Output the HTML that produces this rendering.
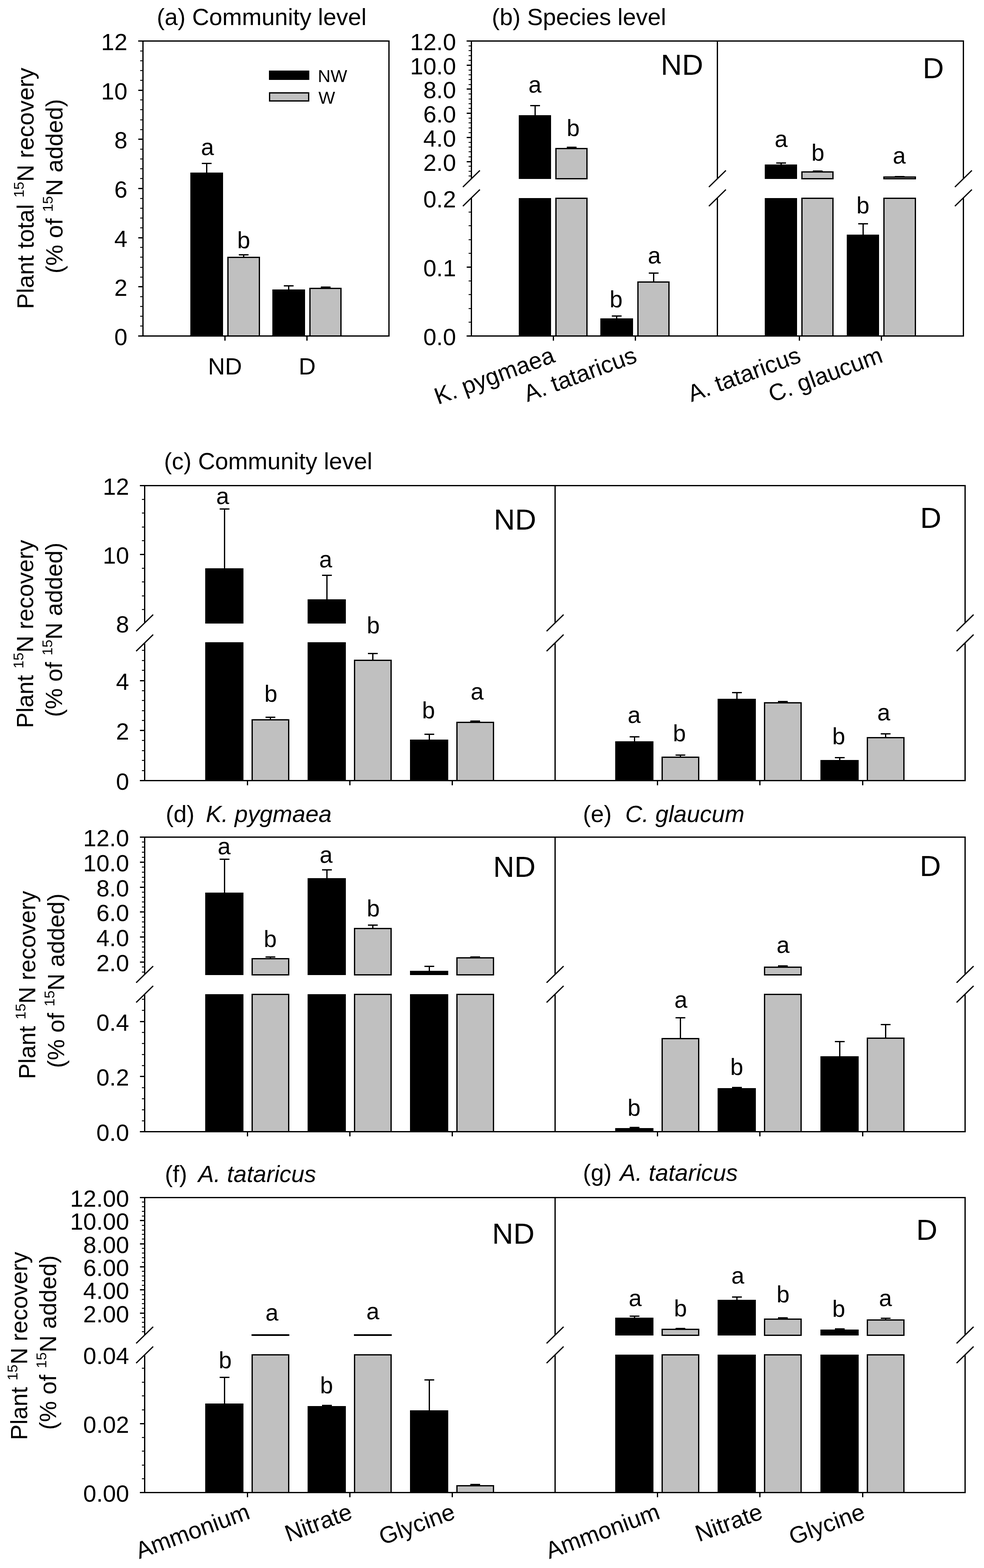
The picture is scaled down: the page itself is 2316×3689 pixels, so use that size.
<!DOCTYPE html>
<html><head><meta charset="utf-8"><title>Plant 15N recovery figure</title>
<style>
html,body{margin:0;padding:0;background:#fff;}
svg{display:block;}
text{font-family:"Liberation Sans",Arial,Helvetica,sans-serif;fill:#000;stroke:none;}
</style></head>
<body>
<svg width="2316" height="3689" viewBox="0 0 2316 3689">
<rect width="2316" height="3689" fill="#fff"/>
<g stroke="#000" stroke-linecap="butt">
<line x1="325.50" y1="96.50" x2="917.00" y2="96.50" stroke-width="3"/>
<line x1="325.50" y1="790.50" x2="917.00" y2="790.50" stroke-width="3"/>
<line x1="336.50" y1="95.00" x2="336.50" y2="792.00" stroke-width="3"/>
<line x1="915.50" y1="95.00" x2="915.50" y2="792.00" stroke-width="3"/>
<line x1="330.00" y1="767" x2="336.50" y2="767" stroke-width="2.2"/>
<line x1="330.00" y1="744" x2="336.50" y2="744" stroke-width="2.2"/>
<line x1="330.00" y1="721" x2="336.50" y2="721" stroke-width="2.2"/>
<line x1="330.00" y1="698" x2="336.50" y2="698" stroke-width="2.2"/>
<line x1="330.00" y1="652" x2="336.50" y2="652" stroke-width="2.2"/>
<line x1="330.00" y1="629" x2="336.50" y2="629" stroke-width="2.2"/>
<line x1="330.00" y1="605" x2="336.50" y2="605" stroke-width="2.2"/>
<line x1="330.00" y1="582" x2="336.50" y2="582" stroke-width="2.2"/>
<line x1="330.00" y1="536" x2="336.50" y2="536" stroke-width="2.2"/>
<line x1="330.00" y1="513" x2="336.50" y2="513" stroke-width="2.2"/>
<line x1="330.00" y1="490" x2="336.50" y2="490" stroke-width="2.2"/>
<line x1="330.00" y1="467" x2="336.50" y2="467" stroke-width="2.2"/>
<line x1="330.00" y1="420" x2="336.50" y2="420" stroke-width="2.2"/>
<line x1="330.00" y1="397" x2="336.50" y2="397" stroke-width="2.2"/>
<line x1="330.00" y1="374" x2="336.50" y2="374" stroke-width="2.2"/>
<line x1="330.00" y1="351" x2="336.50" y2="351" stroke-width="2.2"/>
<line x1="330.00" y1="305" x2="336.50" y2="305" stroke-width="2.2"/>
<line x1="330.00" y1="282" x2="336.50" y2="282" stroke-width="2.2"/>
<line x1="330.00" y1="258" x2="336.50" y2="258" stroke-width="2.2"/>
<line x1="330.00" y1="235" x2="336.50" y2="235" stroke-width="2.2"/>
<line x1="330.00" y1="189" x2="336.50" y2="189" stroke-width="2.2"/>
<line x1="330.00" y1="166" x2="336.50" y2="166" stroke-width="2.2"/>
<line x1="330.00" y1="143" x2="336.50" y2="143" stroke-width="2.2"/>
<line x1="330.00" y1="120" x2="336.50" y2="120" stroke-width="2.2"/>
<line x1="325.50" y1="790.50" x2="336.50" y2="790.50" stroke-width="3"/>
<text x="299.80" y="812.30" font-size="55.5" text-anchor="end">0</text>
<line x1="325.50" y1="674.50" x2="336.50" y2="674.50" stroke-width="3"/>
<text x="299.80" y="696.30" font-size="55.5" text-anchor="end">2</text>
<line x1="325.50" y1="559.50" x2="336.50" y2="559.50" stroke-width="3"/>
<text x="299.80" y="581.30" font-size="55.5" text-anchor="end">4</text>
<line x1="325.50" y1="443.50" x2="336.50" y2="443.50" stroke-width="3"/>
<text x="299.80" y="465.30" font-size="55.5" text-anchor="end">6</text>
<line x1="325.50" y1="327.50" x2="336.50" y2="327.50" stroke-width="3"/>
<text x="299.80" y="349.30" font-size="55.5" text-anchor="end">8</text>
<line x1="325.50" y1="212.50" x2="336.50" y2="212.50" stroke-width="3"/>
<text x="299.80" y="234.30" font-size="55.5" text-anchor="end">10</text>
<line x1="325.50" y1="96.50" x2="336.50" y2="96.50" stroke-width="3"/>
<text x="299.80" y="118.30" font-size="55.5" text-anchor="end">12</text>
<line x1="529.50" y1="790.50" x2="529.50" y2="801.50" stroke-width="3"/>
<line x1="722.50" y1="790.50" x2="722.50" y2="801.50" stroke-width="3"/>
<text x="529.50" y="881.00" font-size="55.5" text-anchor="middle">ND</text>
<text x="723.00" y="881.00" font-size="55.5" text-anchor="middle">D</text>
<rect x="448" y="406" width="77" height="384" fill="#000" stroke="none"/>
<rect x="536.5" y="605.5" width="74" height="185" fill="#c0c0c0" stroke="#000" stroke-width="3"/>
<rect x="641" y="681" width="77" height="109" fill="#000" stroke="none"/>
<rect x="729.5" y="678.5" width="73" height="112" fill="#c0c0c0" stroke="#000" stroke-width="3"/>
<line x1="486.50" y1="406.00" x2="486.50" y2="384.50" stroke-width="3"/>
<line x1="475.00" y1="384.50" x2="498.00" y2="384.50" stroke-width="3"/>
<line x1="573.50" y1="604.00" x2="573.50" y2="599.50" stroke-width="3"/>
<line x1="562.00" y1="599.50" x2="585.00" y2="599.50" stroke-width="3"/>
<line x1="679.50" y1="681.00" x2="679.50" y2="672.50" stroke-width="3"/>
<line x1="668.00" y1="672.50" x2="691.00" y2="672.50" stroke-width="3"/>
<line x1="766.50" y1="677.00" x2="766.50" y2="675.50" stroke-width="3"/>
<line x1="755.00" y1="675.50" x2="778.00" y2="675.50" stroke-width="3"/>
<text x="488.40" y="365.00" font-size="55" text-anchor="middle">a</text>
<text x="573.50" y="583.50" font-size="55" text-anchor="middle">b</text>
<rect x="633" y="166" width="95" height="22" fill="#000" stroke="none"/>
<rect x="634.5" y="218.5" width="92" height="19" fill="#c0c0c0" stroke="#000" stroke-width="3"/>
<text x="748.00" y="192.90" font-size="41.5" text-anchor="start">NW</text>
<text x="749.50" y="243.80" font-size="41.5" text-anchor="start">W</text>
<text x="369.00" y="59.00" font-size="55.5" text-anchor="start">(a) Community level</text>
<line x1="1098.50" y1="96.50" x2="2269.00" y2="96.50" stroke-width="3"/>
<line x1="1098.50" y1="790.50" x2="2269.00" y2="790.50" stroke-width="3"/>
<line x1="1109.50" y1="95.00" x2="1109.50" y2="420.50" stroke-width="3"/>
<line x1="1109.50" y1="465.50" x2="1109.50" y2="792.00" stroke-width="3"/>
<line x1="1688.50" y1="95.00" x2="1688.50" y2="420.50" stroke-width="3"/>
<line x1="1688.50" y1="465.50" x2="1688.50" y2="792.00" stroke-width="3"/>
<line x1="2267.50" y1="95.00" x2="2267.50" y2="420.50" stroke-width="3"/>
<line x1="2267.50" y1="465.50" x2="2267.50" y2="792.00" stroke-width="3"/>
<line x1="1089.50" y1="440.00" x2="1129.50" y2="401.00" stroke-width="3"/>
<line x1="1089.50" y1="485.00" x2="1129.50" y2="446.00" stroke-width="3"/>
<line x1="1668.50" y1="440.00" x2="1708.50" y2="401.00" stroke-width="3"/>
<line x1="1668.50" y1="485.00" x2="1708.50" y2="446.00" stroke-width="3"/>
<line x1="2247.50" y1="440.00" x2="2287.50" y2="401.00" stroke-width="3"/>
<line x1="2247.50" y1="485.00" x2="2287.50" y2="446.00" stroke-width="3"/>
<line x1="1103.00" y1="414" x2="1109.50" y2="414" stroke-width="2.2"/>
<line x1="1103.00" y1="403" x2="1109.50" y2="403" stroke-width="2.2"/>
<line x1="1103.00" y1="391" x2="1109.50" y2="391" stroke-width="2.2"/>
<line x1="1103.00" y1="369" x2="1109.50" y2="369" stroke-width="2.2"/>
<line x1="1103.00" y1="357" x2="1109.50" y2="357" stroke-width="2.2"/>
<line x1="1103.00" y1="346" x2="1109.50" y2="346" stroke-width="2.2"/>
<line x1="1103.00" y1="335" x2="1109.50" y2="335" stroke-width="2.2"/>
<line x1="1103.00" y1="312" x2="1109.50" y2="312" stroke-width="2.2"/>
<line x1="1103.00" y1="301" x2="1109.50" y2="301" stroke-width="2.2"/>
<line x1="1103.00" y1="289" x2="1109.50" y2="289" stroke-width="2.2"/>
<line x1="1103.00" y1="278" x2="1109.50" y2="278" stroke-width="2.2"/>
<line x1="1103.00" y1="255" x2="1109.50" y2="255" stroke-width="2.2"/>
<line x1="1103.00" y1="244" x2="1109.50" y2="244" stroke-width="2.2"/>
<line x1="1103.00" y1="233" x2="1109.50" y2="233" stroke-width="2.2"/>
<line x1="1103.00" y1="221" x2="1109.50" y2="221" stroke-width="2.2"/>
<line x1="1103.00" y1="199" x2="1109.50" y2="199" stroke-width="2.2"/>
<line x1="1103.00" y1="187" x2="1109.50" y2="187" stroke-width="2.2"/>
<line x1="1103.00" y1="176" x2="1109.50" y2="176" stroke-width="2.2"/>
<line x1="1103.00" y1="165" x2="1109.50" y2="165" stroke-width="2.2"/>
<line x1="1103.00" y1="142" x2="1109.50" y2="142" stroke-width="2.2"/>
<line x1="1103.00" y1="131" x2="1109.50" y2="131" stroke-width="2.2"/>
<line x1="1103.00" y1="119" x2="1109.50" y2="119" stroke-width="2.2"/>
<line x1="1103.00" y1="108" x2="1109.50" y2="108" stroke-width="2.2"/>
<line x1="1098.50" y1="380.50" x2="1109.50" y2="380.50" stroke-width="3"/>
<text x="1073.30" y="402.30" font-size="55.5" text-anchor="end">2.0</text>
<line x1="1098.50" y1="323.50" x2="1109.50" y2="323.50" stroke-width="3"/>
<text x="1073.30" y="345.30" font-size="55.5" text-anchor="end">4.0</text>
<line x1="1098.50" y1="266.50" x2="1109.50" y2="266.50" stroke-width="3"/>
<text x="1073.30" y="288.30" font-size="55.5" text-anchor="end">6.0</text>
<line x1="1098.50" y1="209.50" x2="1109.50" y2="209.50" stroke-width="3"/>
<text x="1073.30" y="231.30" font-size="55.5" text-anchor="end">8.0</text>
<line x1="1098.50" y1="153.50" x2="1109.50" y2="153.50" stroke-width="3"/>
<text x="1073.30" y="175.30" font-size="55.5" text-anchor="end">10.0</text>
<line x1="1098.50" y1="96.50" x2="1109.50" y2="96.50" stroke-width="3"/>
<text x="1073.30" y="118.30" font-size="55.5" text-anchor="end">12.0</text>
<line x1="1103.00" y1="758" x2="1109.50" y2="758" stroke-width="2.2"/>
<line x1="1103.00" y1="726" x2="1109.50" y2="726" stroke-width="2.2"/>
<line x1="1103.00" y1="693" x2="1109.50" y2="693" stroke-width="2.2"/>
<line x1="1103.00" y1="661" x2="1109.50" y2="661" stroke-width="2.2"/>
<line x1="1103.00" y1="596" x2="1109.50" y2="596" stroke-width="2.2"/>
<line x1="1103.00" y1="564" x2="1109.50" y2="564" stroke-width="2.2"/>
<line x1="1103.00" y1="531" x2="1109.50" y2="531" stroke-width="2.2"/>
<line x1="1103.00" y1="499" x2="1109.50" y2="499" stroke-width="2.2"/>
<line x1="1098.50" y1="790.50" x2="1109.50" y2="790.50" stroke-width="3"/>
<text x="1073.30" y="812.30" font-size="55.5" text-anchor="end">0.0</text>
<line x1="1098.50" y1="628.50" x2="1109.50" y2="628.50" stroke-width="3"/>
<text x="1073.30" y="650.30" font-size="55.5" text-anchor="end">0.1</text>
<text x="1073.30" y="488.30" font-size="55.5" text-anchor="end">0.2</text>
<line x1="1302.50" y1="790.50" x2="1302.50" y2="801.50" stroke-width="3"/>
<line x1="1495.50" y1="790.50" x2="1495.50" y2="801.50" stroke-width="3"/>
<line x1="1881.50" y1="790.50" x2="1881.50" y2="801.50" stroke-width="3"/>
<line x1="2074.50" y1="790.50" x2="2074.50" y2="801.50" stroke-width="3"/>
<rect x="1221" y="271" width="76" height="150" fill="#000" stroke="none"/>
<rect x="1221" y="466" width="76" height="324" fill="#000" stroke="none"/>
<line x1="1259.50" y1="271.00" x2="1259.50" y2="248.50" stroke-width="3"/>
<line x1="1248.00" y1="248.50" x2="1271.00" y2="248.50" stroke-width="3"/>
<rect x="1308.5" y="349.5" width="73" height="71" fill="#c0c0c0" stroke="#000" stroke-width="3"/>
<rect x="1308.5" y="466.5" width="73" height="324" fill="#c0c0c0" stroke="#000" stroke-width="3"/>
<line x1="1345.50" y1="348.00" x2="1345.50" y2="346.50" stroke-width="3"/>
<line x1="1334.00" y1="346.50" x2="1357.00" y2="346.50" stroke-width="3"/>
<rect x="1413" y="749" width="77" height="41" fill="#000" stroke="none"/>
<line x1="1451.50" y1="749.00" x2="1451.50" y2="743.50" stroke-width="3"/>
<line x1="1440.00" y1="743.50" x2="1463.00" y2="743.50" stroke-width="3"/>
<rect x="1501.5" y="663.5" width="73" height="127" fill="#c0c0c0" stroke="#000" stroke-width="3"/>
<line x1="1538.50" y1="662.00" x2="1538.50" y2="642.50" stroke-width="3"/>
<line x1="1527.00" y1="642.50" x2="1550.00" y2="642.50" stroke-width="3"/>
<rect x="1800" y="387" width="76" height="34" fill="#000" stroke="none"/>
<rect x="1800" y="466" width="76" height="324" fill="#000" stroke="none"/>
<line x1="1838.50" y1="387.00" x2="1838.50" y2="383.50" stroke-width="3"/>
<line x1="1827.00" y1="383.50" x2="1850.00" y2="383.50" stroke-width="3"/>
<rect x="1887.5" y="404.5" width="73" height="16" fill="#c0c0c0" stroke="#000" stroke-width="3"/>
<rect x="1887.5" y="466.5" width="73" height="324" fill="#c0c0c0" stroke="#000" stroke-width="3"/>
<line x1="1913.00" y1="402.50" x2="1936.00" y2="402.50" stroke-width="3"/>
<rect x="1993" y="552" width="76" height="238" fill="#000" stroke="none"/>
<line x1="2031.50" y1="552.00" x2="2031.50" y2="526.50" stroke-width="3"/>
<line x1="2020.00" y1="526.50" x2="2043.00" y2="526.50" stroke-width="3"/>
<rect x="2080.5" y="416.5" width="74" height="4" fill="#c0c0c0" stroke="#000" stroke-width="3"/>
<rect x="2080.5" y="466.5" width="74" height="324" fill="#c0c0c0" stroke="#000" stroke-width="3"/>
<line x1="2106.00" y1="415.50" x2="2129.00" y2="415.50" stroke-width="3"/>
<text x="1259.00" y="217.50" font-size="55" text-anchor="middle">a</text>
<text x="1349.00" y="320.00" font-size="55" text-anchor="middle">b</text>
<text x="1450.00" y="722.50" font-size="55" text-anchor="middle">b</text>
<text x="1540.00" y="620.00" font-size="55" text-anchor="middle">a</text>
<text x="1838.50" y="346.00" font-size="55" text-anchor="middle">a</text>
<text x="1925.00" y="377.50" font-size="55" text-anchor="middle">b</text>
<text x="2031.00" y="501.50" font-size="55" text-anchor="middle">b</text>
<text x="2116.50" y="385.00" font-size="55" text-anchor="middle">a</text>
<text x="1655.00" y="176.00" font-size="69" text-anchor="end">ND</text>
<text x="2221.50" y="184.30" font-size="69" text-anchor="end">D</text>
<text x="1157.50" y="59.00" font-size="55.5" text-anchor="start">(b) Species level</text>
<text transform="translate(1309.00,851.00) rotate(-20)" font-size="55.5" text-anchor="end">K. pygmaea</text>
<text transform="translate(1502.00,851.00) rotate(-20)" font-size="55.5" text-anchor="end">A. tataricus</text>
<text transform="translate(1888.00,851.00) rotate(-20)" font-size="55.5" text-anchor="end">A. tataricus</text>
<text transform="translate(2081.00,851.00) rotate(-20)" font-size="55.5" text-anchor="end">C. glaucum</text>
<line x1="329.50" y1="1142.50" x2="2273.00" y2="1142.50" stroke-width="3"/>
<line x1="329.50" y1="1836.50" x2="2273.00" y2="1836.50" stroke-width="3"/>
<line x1="340.50" y1="1141.00" x2="340.50" y2="1465.50" stroke-width="3"/>
<line x1="340.50" y1="1512.50" x2="340.50" y2="1838.00" stroke-width="3"/>
<line x1="1306.50" y1="1141.00" x2="1306.50" y2="1465.50" stroke-width="3"/>
<line x1="1306.50" y1="1512.50" x2="1306.50" y2="1838.00" stroke-width="3"/>
<line x1="2271.50" y1="1141.00" x2="2271.50" y2="1465.50" stroke-width="3"/>
<line x1="2271.50" y1="1512.50" x2="2271.50" y2="1838.00" stroke-width="3"/>
<line x1="320.50" y1="1485.00" x2="360.50" y2="1446.00" stroke-width="3"/>
<line x1="320.50" y1="1532.00" x2="360.50" y2="1493.00" stroke-width="3"/>
<line x1="1286.50" y1="1485.00" x2="1326.50" y2="1446.00" stroke-width="3"/>
<line x1="1286.50" y1="1532.00" x2="1326.50" y2="1493.00" stroke-width="3"/>
<line x1="2251.50" y1="1485.00" x2="2291.50" y2="1446.00" stroke-width="3"/>
<line x1="2251.50" y1="1532.00" x2="2291.50" y2="1493.00" stroke-width="3"/>
<line x1="582.50" y1="1836.50" x2="582.50" y2="1847.50" stroke-width="3"/>
<line x1="823.50" y1="1836.50" x2="823.50" y2="1847.50" stroke-width="3"/>
<line x1="1064.50" y1="1836.50" x2="1064.50" y2="1847.50" stroke-width="3"/>
<line x1="1547.50" y1="1836.50" x2="1547.50" y2="1847.50" stroke-width="3"/>
<line x1="1788.50" y1="1836.50" x2="1788.50" y2="1847.50" stroke-width="3"/>
<line x1="2030.50" y1="1836.50" x2="2030.50" y2="1847.50" stroke-width="3"/>
<line x1="334.00" y1="1434" x2="340.50" y2="1434" stroke-width="2.2"/>
<line x1="334.00" y1="1402" x2="340.50" y2="1402" stroke-width="2.2"/>
<line x1="334.00" y1="1369" x2="340.50" y2="1369" stroke-width="2.2"/>
<line x1="334.00" y1="1337" x2="340.50" y2="1337" stroke-width="2.2"/>
<line x1="334.00" y1="1272" x2="340.50" y2="1272" stroke-width="2.2"/>
<line x1="334.00" y1="1240" x2="340.50" y2="1240" stroke-width="2.2"/>
<line x1="334.00" y1="1207" x2="340.50" y2="1207" stroke-width="2.2"/>
<line x1="334.00" y1="1175" x2="340.50" y2="1175" stroke-width="2.2"/>
<text x="303.80" y="1488.30" font-size="55.5" text-anchor="end">8</text>
<line x1="329.50" y1="1304.50" x2="340.50" y2="1304.50" stroke-width="3"/>
<text x="303.80" y="1326.30" font-size="55.5" text-anchor="end">10</text>
<line x1="329.50" y1="1142.50" x2="340.50" y2="1142.50" stroke-width="3"/>
<text x="303.80" y="1164.30" font-size="55.5" text-anchor="end">12</text>
<line x1="334.00" y1="1813" x2="340.50" y2="1813" stroke-width="2.2"/>
<line x1="334.00" y1="1789" x2="340.50" y2="1789" stroke-width="2.2"/>
<line x1="334.00" y1="1766" x2="340.50" y2="1766" stroke-width="2.2"/>
<line x1="334.00" y1="1742" x2="340.50" y2="1742" stroke-width="2.2"/>
<line x1="334.00" y1="1695" x2="340.50" y2="1695" stroke-width="2.2"/>
<line x1="334.00" y1="1672" x2="340.50" y2="1672" stroke-width="2.2"/>
<line x1="334.00" y1="1648" x2="340.50" y2="1648" stroke-width="2.2"/>
<line x1="334.00" y1="1625" x2="340.50" y2="1625" stroke-width="2.2"/>
<line x1="334.00" y1="1577" x2="340.50" y2="1577" stroke-width="2.2"/>
<line x1="334.00" y1="1554" x2="340.50" y2="1554" stroke-width="2.2"/>
<line x1="334.00" y1="1530" x2="340.50" y2="1530" stroke-width="2.2"/>
<line x1="329.50" y1="1836.50" x2="340.50" y2="1836.50" stroke-width="3"/>
<text x="303.80" y="1858.30" font-size="55.5" text-anchor="end">0</text>
<line x1="329.50" y1="1718.50" x2="340.50" y2="1718.50" stroke-width="3"/>
<text x="303.80" y="1740.30" font-size="55.5" text-anchor="end">2</text>
<line x1="329.50" y1="1601.50" x2="340.50" y2="1601.50" stroke-width="3"/>
<text x="303.80" y="1623.30" font-size="55.5" text-anchor="end">4</text>
<rect x="483" y="1511" width="90" height="325" fill="#000" stroke="none"/>
<rect x="483" y="1337" width="90" height="130" fill="#000" stroke="none"/>
<line x1="528.50" y1="1337.00" x2="528.50" y2="1197.50" stroke-width="3"/>
<line x1="517.00" y1="1197.50" x2="540.00" y2="1197.50" stroke-width="3"/>
<rect x="593.5" y="1693.5" width="86" height="143" fill="#c0c0c0" stroke="#000" stroke-width="3"/>
<line x1="636.50" y1="1692.00" x2="636.50" y2="1687.50" stroke-width="3"/>
<line x1="625.00" y1="1687.50" x2="648.00" y2="1687.50" stroke-width="3"/>
<rect x="724" y="1511" width="90" height="325" fill="#000" stroke="none"/>
<rect x="724" y="1410" width="90" height="57" fill="#000" stroke="none"/>
<line x1="769.50" y1="1410.00" x2="769.50" y2="1353.50" stroke-width="3"/>
<line x1="758.00" y1="1353.50" x2="781.00" y2="1353.50" stroke-width="3"/>
<rect x="834.5" y="1553.5" width="86" height="283" fill="#c0c0c0" stroke="#000" stroke-width="3"/>
<line x1="877.50" y1="1552.00" x2="877.50" y2="1537.50" stroke-width="3"/>
<line x1="866.00" y1="1537.50" x2="889.00" y2="1537.50" stroke-width="3"/>
<rect x="965" y="1740" width="90" height="96" fill="#000" stroke="none"/>
<line x1="1010.50" y1="1740.00" x2="1010.50" y2="1727.50" stroke-width="3"/>
<line x1="999.00" y1="1727.50" x2="1022.00" y2="1727.50" stroke-width="3"/>
<rect x="1075.5" y="1699.5" width="86" height="137" fill="#c0c0c0" stroke="#000" stroke-width="3"/>
<line x1="1118.50" y1="1698.00" x2="1118.50" y2="1696.50" stroke-width="3"/>
<line x1="1107.00" y1="1696.50" x2="1130.00" y2="1696.50" stroke-width="3"/>
<rect x="1448" y="1744" width="90" height="92" fill="#000" stroke="none"/>
<line x1="1493.50" y1="1744.00" x2="1493.50" y2="1733.50" stroke-width="3"/>
<line x1="1482.00" y1="1733.50" x2="1505.00" y2="1733.50" stroke-width="3"/>
<rect x="1558.5" y="1781.5" width="86" height="55" fill="#c0c0c0" stroke="#000" stroke-width="3"/>
<line x1="1601.50" y1="1780.00" x2="1601.50" y2="1776.50" stroke-width="3"/>
<line x1="1590.00" y1="1776.50" x2="1613.00" y2="1776.50" stroke-width="3"/>
<rect x="1689" y="1644" width="90" height="192" fill="#000" stroke="none"/>
<line x1="1734.50" y1="1644.00" x2="1734.50" y2="1629.50" stroke-width="3"/>
<line x1="1723.00" y1="1629.50" x2="1746.00" y2="1629.50" stroke-width="3"/>
<rect x="1799.5" y="1653.5" width="86" height="183" fill="#c0c0c0" stroke="#000" stroke-width="3"/>
<line x1="1831.00" y1="1650.50" x2="1854.00" y2="1650.50" stroke-width="3"/>
<rect x="1931" y="1788" width="90" height="48" fill="#000" stroke="none"/>
<line x1="1976.50" y1="1788.00" x2="1976.50" y2="1782.50" stroke-width="3"/>
<line x1="1965.00" y1="1782.50" x2="1988.00" y2="1782.50" stroke-width="3"/>
<rect x="2041.5" y="1735.5" width="86" height="101" fill="#c0c0c0" stroke="#000" stroke-width="3"/>
<line x1="2084.50" y1="1734.00" x2="2084.50" y2="1726.50" stroke-width="3"/>
<line x1="2073.00" y1="1726.50" x2="2096.00" y2="1726.50" stroke-width="3"/>
<text x="524.00" y="1186.00" font-size="55" text-anchor="middle">a</text>
<text x="637.50" y="1651.00" font-size="55" text-anchor="middle">b</text>
<text x="766.50" y="1335.00" font-size="55" text-anchor="middle">a</text>
<text x="878.50" y="1490.00" font-size="55" text-anchor="middle">b</text>
<text x="1008.50" y="1690.00" font-size="55" text-anchor="middle">b</text>
<text x="1123.00" y="1646.00" font-size="55" text-anchor="middle">a</text>
<text x="1492.50" y="1701.00" font-size="55" text-anchor="middle">a</text>
<text x="1599.00" y="1744.00" font-size="55" text-anchor="middle">b</text>
<text x="1974.00" y="1751.00" font-size="55" text-anchor="middle">b</text>
<text x="2080.00" y="1695.00" font-size="55" text-anchor="middle">a</text>
<text x="1262.00" y="1246.00" font-size="69" text-anchor="end">ND</text>
<text x="2215.50" y="1241.50" font-size="69" text-anchor="end">D</text>
<text x="386.00" y="1104.00" font-size="55.5" text-anchor="start">(c) Community level</text>
<line x1="329.50" y1="1969.50" x2="2273.00" y2="1969.50" stroke-width="3"/>
<line x1="329.50" y1="2662.50" x2="2273.00" y2="2662.50" stroke-width="3"/>
<line x1="340.50" y1="1968.00" x2="340.50" y2="2292.50" stroke-width="3"/>
<line x1="340.50" y1="2339.00" x2="340.50" y2="2664.00" stroke-width="3"/>
<line x1="1306.50" y1="1968.00" x2="1306.50" y2="2292.50" stroke-width="3"/>
<line x1="1306.50" y1="2339.00" x2="1306.50" y2="2664.00" stroke-width="3"/>
<line x1="2271.50" y1="1968.00" x2="2271.50" y2="2292.50" stroke-width="3"/>
<line x1="2271.50" y1="2339.00" x2="2271.50" y2="2664.00" stroke-width="3"/>
<line x1="320.50" y1="2312.00" x2="360.50" y2="2273.00" stroke-width="3"/>
<line x1="320.50" y1="2358.50" x2="360.50" y2="2319.50" stroke-width="3"/>
<line x1="1286.50" y1="2312.00" x2="1326.50" y2="2273.00" stroke-width="3"/>
<line x1="1286.50" y1="2358.50" x2="1326.50" y2="2319.50" stroke-width="3"/>
<line x1="2251.50" y1="2312.00" x2="2291.50" y2="2273.00" stroke-width="3"/>
<line x1="2251.50" y1="2358.50" x2="2291.50" y2="2319.50" stroke-width="3"/>
<line x1="582.50" y1="2662.50" x2="582.50" y2="2673.50" stroke-width="3"/>
<line x1="823.50" y1="2662.50" x2="823.50" y2="2673.50" stroke-width="3"/>
<line x1="1064.50" y1="2662.50" x2="1064.50" y2="2673.50" stroke-width="3"/>
<line x1="1547.50" y1="2662.50" x2="1547.50" y2="2673.50" stroke-width="3"/>
<line x1="1788.50" y1="2662.50" x2="1788.50" y2="2673.50" stroke-width="3"/>
<line x1="2030.50" y1="2662.50" x2="2030.50" y2="2673.50" stroke-width="3"/>
<line x1="334.00" y1="2287" x2="340.50" y2="2287" stroke-width="2.2"/>
<line x1="334.00" y1="2275" x2="340.50" y2="2275" stroke-width="2.2"/>
<line x1="334.00" y1="2252" x2="340.50" y2="2252" stroke-width="2.2"/>
<line x1="334.00" y1="2240" x2="340.50" y2="2240" stroke-width="2.2"/>
<line x1="334.00" y1="2228" x2="340.50" y2="2228" stroke-width="2.2"/>
<line x1="334.00" y1="2216" x2="340.50" y2="2216" stroke-width="2.2"/>
<line x1="334.00" y1="2193" x2="340.50" y2="2193" stroke-width="2.2"/>
<line x1="334.00" y1="2181" x2="340.50" y2="2181" stroke-width="2.2"/>
<line x1="334.00" y1="2169" x2="340.50" y2="2169" stroke-width="2.2"/>
<line x1="334.00" y1="2158" x2="340.50" y2="2158" stroke-width="2.2"/>
<line x1="334.00" y1="2134" x2="340.50" y2="2134" stroke-width="2.2"/>
<line x1="334.00" y1="2122" x2="340.50" y2="2122" stroke-width="2.2"/>
<line x1="334.00" y1="2111" x2="340.50" y2="2111" stroke-width="2.2"/>
<line x1="334.00" y1="2099" x2="340.50" y2="2099" stroke-width="2.2"/>
<line x1="334.00" y1="2075" x2="340.50" y2="2075" stroke-width="2.2"/>
<line x1="334.00" y1="2064" x2="340.50" y2="2064" stroke-width="2.2"/>
<line x1="334.00" y1="2052" x2="340.50" y2="2052" stroke-width="2.2"/>
<line x1="334.00" y1="2040" x2="340.50" y2="2040" stroke-width="2.2"/>
<line x1="334.00" y1="2017" x2="340.50" y2="2017" stroke-width="2.2"/>
<line x1="334.00" y1="2005" x2="340.50" y2="2005" stroke-width="2.2"/>
<line x1="334.00" y1="1993" x2="340.50" y2="1993" stroke-width="2.2"/>
<line x1="334.00" y1="1981" x2="340.50" y2="1981" stroke-width="2.2"/>
<line x1="329.50" y1="2263.50" x2="340.50" y2="2263.50" stroke-width="3"/>
<text x="303.80" y="2285.30" font-size="55.5" text-anchor="end">2.0</text>
<line x1="329.50" y1="2204.50" x2="340.50" y2="2204.50" stroke-width="3"/>
<text x="303.80" y="2226.30" font-size="55.5" text-anchor="end">4.0</text>
<line x1="329.50" y1="2145.50" x2="340.50" y2="2145.50" stroke-width="3"/>
<text x="303.80" y="2167.30" font-size="55.5" text-anchor="end">6.0</text>
<line x1="329.50" y1="2087.50" x2="340.50" y2="2087.50" stroke-width="3"/>
<text x="303.80" y="2109.30" font-size="55.5" text-anchor="end">8.0</text>
<line x1="329.50" y1="2028.50" x2="340.50" y2="2028.50" stroke-width="3"/>
<text x="303.80" y="2050.30" font-size="55.5" text-anchor="end">10.0</text>
<line x1="329.50" y1="1969.50" x2="340.50" y2="1969.50" stroke-width="3"/>
<text x="303.80" y="1991.30" font-size="55.5" text-anchor="end">12.0</text>
<line x1="334.00" y1="2637" x2="340.50" y2="2637" stroke-width="2.2"/>
<line x1="334.00" y1="2611" x2="340.50" y2="2611" stroke-width="2.2"/>
<line x1="334.00" y1="2585" x2="340.50" y2="2585" stroke-width="2.2"/>
<line x1="334.00" y1="2559" x2="340.50" y2="2559" stroke-width="2.2"/>
<line x1="334.00" y1="2507" x2="340.50" y2="2507" stroke-width="2.2"/>
<line x1="334.00" y1="2481" x2="340.50" y2="2481" stroke-width="2.2"/>
<line x1="334.00" y1="2455" x2="340.50" y2="2455" stroke-width="2.2"/>
<line x1="334.00" y1="2429" x2="340.50" y2="2429" stroke-width="2.2"/>
<line x1="334.00" y1="2377" x2="340.50" y2="2377" stroke-width="2.2"/>
<line x1="334.00" y1="2351" x2="340.50" y2="2351" stroke-width="2.2"/>
<line x1="329.50" y1="2662.50" x2="340.50" y2="2662.50" stroke-width="3"/>
<text x="303.80" y="2684.30" font-size="55.5" text-anchor="end">0.0</text>
<line x1="329.50" y1="2532.50" x2="340.50" y2="2532.50" stroke-width="3"/>
<text x="303.80" y="2554.30" font-size="55.5" text-anchor="end">0.2</text>
<line x1="329.50" y1="2403.50" x2="340.50" y2="2403.50" stroke-width="3"/>
<text x="303.80" y="2425.30" font-size="55.5" text-anchor="end">0.4</text>
<rect x="483" y="2339" width="90" height="323" fill="#000" stroke="none"/>
<rect x="483" y="2100" width="90" height="194" fill="#000" stroke="none"/>
<line x1="528.50" y1="2100.00" x2="528.50" y2="2021.50" stroke-width="3"/>
<line x1="517.00" y1="2021.50" x2="540.00" y2="2021.50" stroke-width="3"/>
<rect x="593.5" y="2339.5" width="86" height="323" fill="#c0c0c0" stroke="#000" stroke-width="3"/>
<rect x="593.5" y="2255.5" width="86" height="38" fill="#c0c0c0" stroke="#000" stroke-width="3"/>
<line x1="636.50" y1="2254.00" x2="636.50" y2="2251.50" stroke-width="3"/>
<line x1="625.00" y1="2251.50" x2="648.00" y2="2251.50" stroke-width="3"/>
<rect x="724" y="2339" width="90" height="323" fill="#000" stroke="none"/>
<rect x="724" y="2066" width="90" height="228" fill="#000" stroke="none"/>
<line x1="769.50" y1="2066.00" x2="769.50" y2="2046.50" stroke-width="3"/>
<line x1="758.00" y1="2046.50" x2="781.00" y2="2046.50" stroke-width="3"/>
<rect x="834.5" y="2339.5" width="86" height="323" fill="#c0c0c0" stroke="#000" stroke-width="3"/>
<rect x="834.5" y="2184.5" width="86" height="109" fill="#c0c0c0" stroke="#000" stroke-width="3"/>
<line x1="877.50" y1="2183.00" x2="877.50" y2="2176.50" stroke-width="3"/>
<line x1="866.00" y1="2176.50" x2="889.00" y2="2176.50" stroke-width="3"/>
<rect x="965" y="2339" width="90" height="323" fill="#000" stroke="none"/>
<rect x="965" y="2284" width="90" height="10" fill="#000" stroke="none"/>
<line x1="1010.50" y1="2284.00" x2="1010.50" y2="2273.50" stroke-width="3"/>
<line x1="999.00" y1="2273.50" x2="1022.00" y2="2273.50" stroke-width="3"/>
<rect x="1075.5" y="2339.5" width="86" height="323" fill="#c0c0c0" stroke="#000" stroke-width="3"/>
<rect x="1075.5" y="2253.5" width="86" height="40" fill="#c0c0c0" stroke="#000" stroke-width="3"/>
<line x1="1107.00" y1="2251.50" x2="1130.00" y2="2251.50" stroke-width="3"/>
<rect x="1448" y="2654" width="90" height="8" fill="#000" stroke="none"/>
<line x1="1493.50" y1="2654.00" x2="1493.50" y2="2652.50" stroke-width="3"/>
<line x1="1482.00" y1="2652.50" x2="1505.00" y2="2652.50" stroke-width="3"/>
<rect x="1558.5" y="2443.5" width="86" height="219" fill="#c0c0c0" stroke="#000" stroke-width="3"/>
<line x1="1601.50" y1="2442.00" x2="1601.50" y2="2394.50" stroke-width="3"/>
<line x1="1590.00" y1="2394.50" x2="1613.00" y2="2394.50" stroke-width="3"/>
<rect x="1689" y="2560" width="90" height="102" fill="#000" stroke="none"/>
<line x1="1734.50" y1="2560.00" x2="1734.50" y2="2558.50" stroke-width="3"/>
<line x1="1723.00" y1="2558.50" x2="1746.00" y2="2558.50" stroke-width="3"/>
<rect x="1799.5" y="2339.5" width="86" height="323" fill="#c0c0c0" stroke="#000" stroke-width="3"/>
<rect x="1799.5" y="2275.5" width="86" height="18" fill="#c0c0c0" stroke="#000" stroke-width="3"/>
<line x1="1842.50" y1="2274.00" x2="1842.50" y2="2272.50" stroke-width="3"/>
<line x1="1831.00" y1="2272.50" x2="1854.00" y2="2272.50" stroke-width="3"/>
<rect x="1931" y="2485" width="90" height="177" fill="#000" stroke="none"/>
<line x1="1976.50" y1="2485.00" x2="1976.50" y2="2450.50" stroke-width="3"/>
<line x1="1965.00" y1="2450.50" x2="1988.00" y2="2450.50" stroke-width="3"/>
<rect x="2041.5" y="2442.5" width="86" height="220" fill="#c0c0c0" stroke="#000" stroke-width="3"/>
<line x1="2084.50" y1="2441.00" x2="2084.50" y2="2410.50" stroke-width="3"/>
<line x1="2073.00" y1="2410.50" x2="2096.00" y2="2410.50" stroke-width="3"/>
<text x="527.50" y="2010.00" font-size="55" text-anchor="middle">a</text>
<text x="636.00" y="2227.50" font-size="55" text-anchor="middle">b</text>
<text x="767.50" y="2030.00" font-size="55" text-anchor="middle">a</text>
<text x="878.50" y="2156.00" font-size="55" text-anchor="middle">b</text>
<text x="1492.30" y="2624.90" font-size="55" text-anchor="middle">b</text>
<text x="1602.50" y="2371.00" font-size="55" text-anchor="middle">a</text>
<text x="1734.00" y="2529.00" font-size="55" text-anchor="middle">b</text>
<text x="1843.00" y="2242.00" font-size="55" text-anchor="middle">a</text>
<text x="1260.50" y="2062.50" font-size="69" text-anchor="end">ND</text>
<text x="2214.50" y="2061.20" font-size="69" text-anchor="end">D</text>
<text x="390.00" y="1934.00" font-size="55.5" text-anchor="start">(d)</text>
<text x="484.50" y="1934.00" font-size="55.5" text-anchor="start" font-style="italic">K. pygmaea</text>
<text x="1372.00" y="1934.00" font-size="55.5" text-anchor="start">(e)</text>
<text x="1471.50" y="1934.00" font-size="55.5" text-anchor="start" font-style="italic">C. glaucum</text>
<line x1="329.50" y1="2817.50" x2="2273.00" y2="2817.50" stroke-width="3"/>
<line x1="329.50" y1="3511.50" x2="2273.00" y2="3511.50" stroke-width="3"/>
<line x1="340.50" y1="2816.00" x2="340.50" y2="3141.00" stroke-width="3"/>
<line x1="340.50" y1="3187.50" x2="340.50" y2="3513.00" stroke-width="3"/>
<line x1="1306.50" y1="2816.00" x2="1306.50" y2="3141.00" stroke-width="3"/>
<line x1="1306.50" y1="3187.50" x2="1306.50" y2="3513.00" stroke-width="3"/>
<line x1="2271.50" y1="2816.00" x2="2271.50" y2="3141.00" stroke-width="3"/>
<line x1="2271.50" y1="3187.50" x2="2271.50" y2="3513.00" stroke-width="3"/>
<line x1="320.50" y1="3160.50" x2="360.50" y2="3121.50" stroke-width="3"/>
<line x1="320.50" y1="3207.00" x2="360.50" y2="3168.00" stroke-width="3"/>
<line x1="1286.50" y1="3160.50" x2="1326.50" y2="3121.50" stroke-width="3"/>
<line x1="1286.50" y1="3207.00" x2="1326.50" y2="3168.00" stroke-width="3"/>
<line x1="2251.50" y1="3160.50" x2="2291.50" y2="3121.50" stroke-width="3"/>
<line x1="2251.50" y1="3207.00" x2="2291.50" y2="3168.00" stroke-width="3"/>
<line x1="582.50" y1="3511.50" x2="582.50" y2="3522.50" stroke-width="3"/>
<line x1="823.50" y1="3511.50" x2="823.50" y2="3522.50" stroke-width="3"/>
<line x1="1064.50" y1="3511.50" x2="1064.50" y2="3522.50" stroke-width="3"/>
<line x1="1547.50" y1="3511.50" x2="1547.50" y2="3522.50" stroke-width="3"/>
<line x1="1788.50" y1="3511.50" x2="1788.50" y2="3522.50" stroke-width="3"/>
<line x1="2030.50" y1="3511.50" x2="2030.50" y2="3522.50" stroke-width="3"/>
<line x1="334.00" y1="3133" x2="340.50" y2="3133" stroke-width="2.2"/>
<line x1="334.00" y1="3122" x2="340.50" y2="3122" stroke-width="2.2"/>
<line x1="334.00" y1="3111" x2="340.50" y2="3111" stroke-width="2.2"/>
<line x1="334.00" y1="3100" x2="340.50" y2="3100" stroke-width="2.2"/>
<line x1="334.00" y1="3078" x2="340.50" y2="3078" stroke-width="2.2"/>
<line x1="334.00" y1="3067" x2="340.50" y2="3067" stroke-width="2.2"/>
<line x1="334.00" y1="3057" x2="340.50" y2="3057" stroke-width="2.2"/>
<line x1="334.00" y1="3046" x2="340.50" y2="3046" stroke-width="2.2"/>
<line x1="334.00" y1="3024" x2="340.50" y2="3024" stroke-width="2.2"/>
<line x1="334.00" y1="3013" x2="340.50" y2="3013" stroke-width="2.2"/>
<line x1="334.00" y1="3002" x2="340.50" y2="3002" stroke-width="2.2"/>
<line x1="334.00" y1="2991" x2="340.50" y2="2991" stroke-width="2.2"/>
<line x1="334.00" y1="2970" x2="340.50" y2="2970" stroke-width="2.2"/>
<line x1="334.00" y1="2959" x2="340.50" y2="2959" stroke-width="2.2"/>
<line x1="334.00" y1="2948" x2="340.50" y2="2948" stroke-width="2.2"/>
<line x1="334.00" y1="2937" x2="340.50" y2="2937" stroke-width="2.2"/>
<line x1="334.00" y1="2915" x2="340.50" y2="2915" stroke-width="2.2"/>
<line x1="334.00" y1="2904" x2="340.50" y2="2904" stroke-width="2.2"/>
<line x1="334.00" y1="2894" x2="340.50" y2="2894" stroke-width="2.2"/>
<line x1="334.00" y1="2883" x2="340.50" y2="2883" stroke-width="2.2"/>
<line x1="334.00" y1="2861" x2="340.50" y2="2861" stroke-width="2.2"/>
<line x1="334.00" y1="2850" x2="340.50" y2="2850" stroke-width="2.2"/>
<line x1="334.00" y1="2839" x2="340.50" y2="2839" stroke-width="2.2"/>
<line x1="334.00" y1="2828" x2="340.50" y2="2828" stroke-width="2.2"/>
<line x1="329.50" y1="3089.50" x2="340.50" y2="3089.50" stroke-width="3"/>
<text x="303.80" y="3111.30" font-size="55.5" text-anchor="end">2.00</text>
<line x1="329.50" y1="3034.50" x2="340.50" y2="3034.50" stroke-width="3"/>
<text x="303.80" y="3056.30" font-size="55.5" text-anchor="end">4.00</text>
<line x1="329.50" y1="2980.50" x2="340.50" y2="2980.50" stroke-width="3"/>
<text x="303.80" y="3002.30" font-size="55.5" text-anchor="end">6.00</text>
<line x1="329.50" y1="2926.50" x2="340.50" y2="2926.50" stroke-width="3"/>
<text x="303.80" y="2948.30" font-size="55.5" text-anchor="end">8.00</text>
<line x1="329.50" y1="2871.50" x2="340.50" y2="2871.50" stroke-width="3"/>
<text x="303.80" y="2893.30" font-size="55.5" text-anchor="end">10.00</text>
<line x1="329.50" y1="2817.50" x2="340.50" y2="2817.50" stroke-width="3"/>
<text x="303.80" y="2839.30" font-size="55.5" text-anchor="end">12.00</text>
<line x1="334.00" y1="3479" x2="340.50" y2="3479" stroke-width="2.2"/>
<line x1="334.00" y1="3447" x2="340.50" y2="3447" stroke-width="2.2"/>
<line x1="334.00" y1="3414" x2="340.50" y2="3414" stroke-width="2.2"/>
<line x1="334.00" y1="3382" x2="340.50" y2="3382" stroke-width="2.2"/>
<line x1="334.00" y1="3317" x2="340.50" y2="3317" stroke-width="2.2"/>
<line x1="334.00" y1="3284" x2="340.50" y2="3284" stroke-width="2.2"/>
<line x1="334.00" y1="3252" x2="340.50" y2="3252" stroke-width="2.2"/>
<line x1="334.00" y1="3219" x2="340.50" y2="3219" stroke-width="2.2"/>
<line x1="329.50" y1="3511.50" x2="340.50" y2="3511.50" stroke-width="3"/>
<text x="303.80" y="3533.30" font-size="55.5" text-anchor="end">0.00</text>
<line x1="329.50" y1="3349.50" x2="340.50" y2="3349.50" stroke-width="3"/>
<text x="303.80" y="3371.30" font-size="55.5" text-anchor="end">0.02</text>
<text x="303.80" y="3209.30" font-size="55.5" text-anchor="end">0.04</text>
<rect x="483" y="3302" width="90" height="209" fill="#000" stroke="none"/>
<line x1="528.50" y1="3302.00" x2="528.50" y2="3240.50" stroke-width="3"/>
<line x1="517.00" y1="3240.50" x2="540.00" y2="3240.50" stroke-width="3"/>
<rect x="593.5" y="3187.5" width="86" height="324" fill="#c0c0c0" stroke="#000" stroke-width="3"/>
<rect x="593.5" y="3140.5" width="86" height="1" fill="#c0c0c0" stroke="#000" stroke-width="3"/>
<rect x="724" y="3308" width="90" height="203" fill="#000" stroke="none"/>
<line x1="769.50" y1="3308.00" x2="769.50" y2="3306.50" stroke-width="3"/>
<line x1="758.00" y1="3306.50" x2="781.00" y2="3306.50" stroke-width="3"/>
<rect x="834.5" y="3187.5" width="86" height="324" fill="#c0c0c0" stroke="#000" stroke-width="3"/>
<rect x="834.5" y="3140.5" width="86" height="1" fill="#c0c0c0" stroke="#000" stroke-width="3"/>
<rect x="965" y="3318" width="90" height="193" fill="#000" stroke="none"/>
<line x1="1010.50" y1="3318.00" x2="1010.50" y2="3246.50" stroke-width="3"/>
<line x1="999.00" y1="3246.50" x2="1022.00" y2="3246.50" stroke-width="3"/>
<rect x="1075.5" y="3495.5" width="86" height="16" fill="#c0c0c0" stroke="#000" stroke-width="3"/>
<line x1="1107.00" y1="3492.50" x2="1130.00" y2="3492.50" stroke-width="3"/>
<rect x="1448" y="3187" width="90" height="324" fill="#000" stroke="none"/>
<rect x="1448" y="3100" width="90" height="42" fill="#000" stroke="none"/>
<line x1="1493.50" y1="3100.00" x2="1493.50" y2="3096.50" stroke-width="3"/>
<line x1="1482.00" y1="3096.50" x2="1505.00" y2="3096.50" stroke-width="3"/>
<rect x="1558.5" y="3187.5" width="86" height="324" fill="#c0c0c0" stroke="#000" stroke-width="3"/>
<rect x="1558.5" y="3127.5" width="86" height="14" fill="#c0c0c0" stroke="#000" stroke-width="3"/>
<line x1="1590.00" y1="3125.50" x2="1613.00" y2="3125.50" stroke-width="3"/>
<rect x="1689" y="3187" width="90" height="324" fill="#000" stroke="none"/>
<rect x="1689" y="3058" width="90" height="84" fill="#000" stroke="none"/>
<line x1="1734.50" y1="3058.00" x2="1734.50" y2="3051.50" stroke-width="3"/>
<line x1="1723.00" y1="3051.50" x2="1746.00" y2="3051.50" stroke-width="3"/>
<rect x="1799.5" y="3187.5" width="86" height="324" fill="#c0c0c0" stroke="#000" stroke-width="3"/>
<rect x="1799.5" y="3103.5" width="86" height="38" fill="#c0c0c0" stroke="#000" stroke-width="3"/>
<line x1="1831.00" y1="3100.50" x2="1854.00" y2="3100.50" stroke-width="3"/>
<rect x="1931" y="3187" width="90" height="324" fill="#000" stroke="none"/>
<rect x="1931" y="3128" width="90" height="14" fill="#000" stroke="none"/>
<line x1="1976.50" y1="3128.00" x2="1976.50" y2="3126.50" stroke-width="3"/>
<line x1="1965.00" y1="3126.50" x2="1988.00" y2="3126.50" stroke-width="3"/>
<rect x="2041.5" y="3187.5" width="86" height="324" fill="#c0c0c0" stroke="#000" stroke-width="3"/>
<rect x="2041.5" y="3105.5" width="86" height="36" fill="#c0c0c0" stroke="#000" stroke-width="3"/>
<line x1="2084.50" y1="3104.00" x2="2084.50" y2="3101.50" stroke-width="3"/>
<line x1="2073.00" y1="3101.50" x2="2096.00" y2="3101.50" stroke-width="3"/>
<text x="530.00" y="3219.00" font-size="55" text-anchor="middle">b</text>
<text x="640.00" y="3107.00" font-size="55" text-anchor="middle">a</text>
<text x="768.50" y="3277.50" font-size="55" text-anchor="middle">b</text>
<text x="877.50" y="3103.50" font-size="55" text-anchor="middle">a</text>
<text x="1495.00" y="3072.50" font-size="55" text-anchor="middle">a</text>
<text x="1601.50" y="3096.50" font-size="55" text-anchor="middle">b</text>
<text x="1736.50" y="3020.00" font-size="55" text-anchor="middle">a</text>
<text x="1843.00" y="3064.00" font-size="55" text-anchor="middle">b</text>
<text x="1974.00" y="3097.50" font-size="55" text-anchor="middle">b</text>
<text x="2084.00" y="3072.50" font-size="55" text-anchor="middle">a</text>
<text x="1258.00" y="2926.00" font-size="69" text-anchor="end">ND</text>
<text x="2206.30" y="2916.60" font-size="69" text-anchor="end">D</text>
<text x="388.00" y="2781.00" font-size="55.5" text-anchor="start">(f)</text>
<text x="466.50" y="2781.00" font-size="55.5" text-anchor="start" font-style="italic">A. tataricus</text>
<text x="1372.00" y="2778.00" font-size="55.5" text-anchor="start">(g)</text>
<text x="1459.00" y="2778.00" font-size="55.5" text-anchor="start" font-style="italic">A. tataricus</text>
<text transform="translate(591.50,3572.00) rotate(-20)" font-size="55.5" text-anchor="end">Ammonium</text>
<text transform="translate(832.50,3572.00) rotate(-20)" font-size="55.5" text-anchor="end">Nitrate</text>
<text transform="translate(1074.50,3572.00) rotate(-20)" font-size="55.5" text-anchor="end">Glycine</text>
<text transform="translate(1556.50,3572.00) rotate(-20)" font-size="55.5" text-anchor="end">Ammonium</text>
<text transform="translate(1798.50,3572.00) rotate(-20)" font-size="55.5" text-anchor="end">Nitrate</text>
<text transform="translate(2039.50,3572.00) rotate(-20)" font-size="55.5" text-anchor="end">Glycine</text>
<text transform="translate(79.00,443.10) rotate(-90)" font-size="55.5" text-anchor="middle">Plant total <tspan font-size="33.5" dy="-23">15</tspan><tspan dy="23">N</tspan> recovery</text>
<text transform="translate(147.00,438.20) rotate(-90)" font-size="55.5" text-anchor="middle">(% of <tspan font-size="33.5" dy="-23">15</tspan><tspan dy="23">N</tspan> added)</text>
<text transform="translate(77.80,1491.50) rotate(-90)" font-size="54.9" text-anchor="middle">Plant <tspan font-size="33.5" dy="-23">15</tspan><tspan dy="23">N</tspan> recovery</text>
<text transform="translate(145.90,1481.80) rotate(-90)" font-size="55.5" text-anchor="middle">(% of <tspan font-size="33.5" dy="-23">15</tspan><tspan dy="23">N</tspan> added)</text>
<text transform="translate(82.90,2317.30) rotate(-90)" font-size="54.9" text-anchor="middle">Plant <tspan font-size="33.5" dy="-23">15</tspan><tspan dy="23">N</tspan> recovery</text>
<text transform="translate(150.90,2307.40) rotate(-90)" font-size="55.5" text-anchor="middle">(% of <tspan font-size="33.5" dy="-23">15</tspan><tspan dy="23">N</tspan> added)</text>
<text transform="translate(63.90,3166.50) rotate(-90)" font-size="54.9" text-anchor="middle">Plant <tspan font-size="33.5" dy="-23">15</tspan><tspan dy="23">N</tspan> recovery</text>
<text transform="translate(132.20,3158.60) rotate(-90)" font-size="55.5" text-anchor="middle">(% of <tspan font-size="33.5" dy="-23">15</tspan><tspan dy="23">N</tspan> added)</text>
</g>
</svg>
</body></html>
